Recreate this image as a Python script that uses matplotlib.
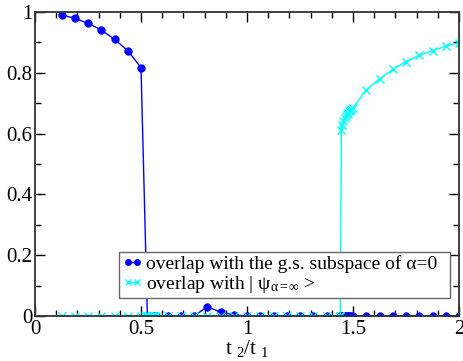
import numpy as np
import matplotlib
matplotlib.use("Agg")
import matplotlib.pyplot as plt
from matplotlib.ticker import MultipleLocator, FuncFormatter

plt.rcParams['font.family'] = ['Liberation Serif', 'DejaVu Serif']
plt.rcParams['mathtext.fontset'] = 'custom'
plt.rcParams['mathtext.rm'] = 'Liberation Serif'
plt.rcParams['mathtext.it'] = 'Liberation Serif:italic'

# overlap with g.s. subspace of alpha=0 (blue)
x_gs = [0.125, 0.1875, 0.25, 0.3125, 0.375, 0.4375, 0.5, 0.53, 0.535, 0.54, 0.545,
        0.55, 0.555, 0.56, 0.565, 0.57, 0.625, 0.6875, 0.75, 0.8125, 0.875, 0.9375,
        1.0, 1.0625, 1.125, 1.1875, 1.25, 1.3125, 1.375, 1.4375, 1.445, 1.45, 1.455,
        1.46, 1.465, 1.47, 1.475, 1.48, 1.485, 1.49, 1.5, 1.5625, 1.625, 1.6875, 1.75,
        1.8125, 1.875, 1.9375, 2.0]
y_gs = [0.991, 0.979, 0.963, 0.941, 0.910, 0.873, 0.817, 0.0, 0.0, 0.0, 0.0,
        0.0, 0.0, 0.0, 0.0, 0.0, 0.0, 0.0, 0.0, 0.030, 0.013, 0.004,
        0.0, 0.0, 0.0, 0.0, 0.0, 0.0, 0.0, 0.0, 0.0, 0.0, 0.0,
        0.0, 0.0, 0.0, 0.0, 0.0, 0.0, 0.0, 0.0, 0.0, 0.0, 0.0, 0.0,
        0.0, 0.0, 0.0, 0.0]

# overlap with |psi_inf> (cyan)
x_inf = [0.125, 0.1875, 0.25, 0.3125, 0.375, 0.4375, 0.5, 0.52, 0.525, 0.53, 0.535,
         0.54, 0.545, 0.55, 0.555, 0.56, 0.565, 0.57, 0.625, 0.6875, 0.75, 0.8125,
         0.875, 0.9375, 1.0, 1.0625, 1.125, 1.1875, 1.25, 1.3125, 1.375, 1.4375, 1.44,
         1.445, 1.45, 1.455, 1.46, 1.465, 1.47, 1.475, 1.48, 1.485, 1.49, 1.5,
         1.5625, 1.625, 1.6875, 1.75, 1.8125, 1.875, 1.9375, 2.0]
y_inf = [0.0, 0.0, 0.0, 0.0, 0.0, 0.0, 0.0, 0.0, 0.0, 0.0, 0.0,
         0.0, 0.0, 0.0, 0.0, 0.0, 0.0, 0.0, 0.0, 0.0, 0.0, 0.0,
         0.0, 0.0, 0.0, 0.0, 0.0, 0.0, 0.0, 0.0, 0.0, 0.0, 0.0,
         0.612, 0.628, 0.640, 0.650, 0.658, 0.664, 0.669, 0.673, 0.677, 0.680, 0.685,
         0.743, 0.780, 0.811, 0.837, 0.857, 0.873, 0.887, 0.899]

fig = plt.figure(figsize=(4.63, 3.61), dpi=100)
ax = fig.add_axes([0.0756, 0.1247, 0.9158, 0.8421])

ax.plot(x_gs, y_gs, '-o', color='#0000ff', lw=1, ms=5,
        label='overlap with the g.s. subspace of α=0')
ax.plot(x_inf, y_inf, '-x', color='#00ffff', lw=1, ms=6, mew=1,
        label=r'overlap with | $\mathrm{ψ}_{\mathrm{α=∞}}$ >')

ax.set_xlim(0, 2)
ax.set_ylim(0, 1)
ax.xaxis.set_major_locator(MultipleLocator(0.5))
ax.xaxis.set_minor_locator(MultipleLocator(0.1))
ax.yaxis.set_major_locator(MultipleLocator(0.2))
ax.yaxis.set_minor_locator(MultipleLocator(0.1))
ax.xaxis.set_major_formatter(FuncFormatter(lambda v, p: '%g' % v))
ax.yaxis.set_major_formatter(FuncFormatter(lambda v, p: '%g' % v))
ax.tick_params(which='both', direction='in', top=True, right=True, labelsize=15)
ax.tick_params(axis='x', pad=3)
ax.tick_params(axis='y', pad=2)
ax.tick_params(which='major', length=7, width=1)
ax.tick_params(which='minor', length=4, width=1)
for s in ax.spines.values():
    s.set_linewidth(1.3)
    s.set_color('#333333')

ax.set_xlabel(r't $_{2}$/t $_{1}$', fontsize=15, labelpad=-1)

leg = ax.legend(loc='lower left', bbox_to_anchor=(0.198, 0.059, 0.781, 0.172),
                mode='expand', fontsize=14, handlelength=1.1, handletextpad=0.15,
                borderpad=0.15, labelspacing=0.05, borderaxespad=0, fancybox=False,
                framealpha=1, edgecolor='#666666', numpoints=2, markerscale=0.8)
leg.get_frame().set_linewidth(1)

fig.savefig('out.png', dpi=100)
